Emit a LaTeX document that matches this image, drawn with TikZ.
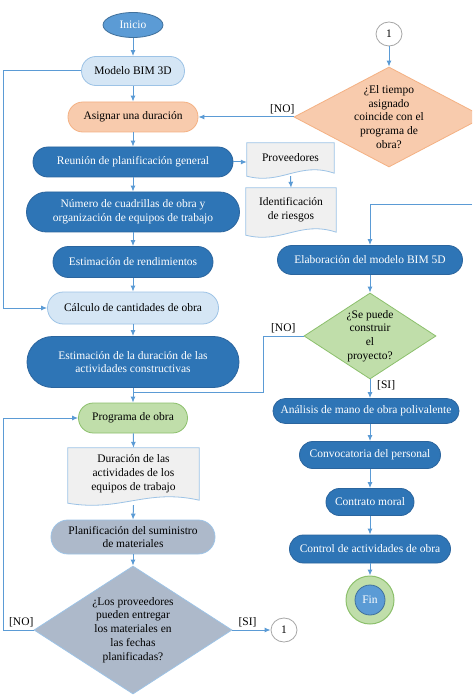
\documentclass[tikz,border=0pt]{standalone}
\usepackage{fontspec}
\setmainfont{Liberation Serif}
\usetikzlibrary{shapes.geometric,arrows.meta,calc}
\definecolor{dblue}{HTML}{2E75B6}
\definecolor{dblueb}{HTML}{2B659E}
\definecolor{mblue}{HTML}{5B9BD5}
\definecolor{mblueb}{HTML}{41719C}
\definecolor{lblue}{HTML}{D5E6F5}
\definecolor{lblueb}{HTML}{9DC3E6}
\definecolor{oran}{HTML}{F8CBAD}
\definecolor{oranb}{HTML}{F4B183}
\definecolor{gfill}{HTML}{C0DEAA}
\definecolor{gline}{HTML}{8CC06C}
\definecolor{gbfill}{HTML}{ADB9CA}
\definecolor{docfill}{HTML}{F0F0F0}
\definecolor{arr}{HTML}{5B9BD5}
\newcommand\wavedoc[1]{%
  \filldraw[docline] (#1.north west) -- (#1.north east) -- (#1.south east)
   .. controls ($(#1.south west)!0.6!(#1.south east)+(0,-12)$) and ($(#1.south west)!0.4!(#1.south east)+(0,12)$) .. ($(#1.south west)+(0,3)$) -- cycle;}
\begin{document}
\begin{tikzpicture}[x=1pt,y=-1pt,
  font=\fontsize{11.5}{13.8}\selectfont,
  stad/.style={rectangle, minimum height=#1, rounded corners={#1/2-0.1pt}, inner sep=0pt, align=center},
  darknode/.style={fill=dblue, draw=dblueb, line width=0.8pt, text=white},
  lightnode/.style={fill=lblue, draw=lblueb, line width=0.8pt, text=black},
  orangenode/.style={fill=oran, draw=oranb, line width=0.8pt, text=black},
  greennode/.style={fill=gfill, draw=gline, line width=0.8pt, text=black},
  greynode/.style={fill=gbfill, draw=lblueb, line width=0.8pt, text=black},
  dia/.style={diamond, inner sep=0pt},
  docline/.style={fill=docfill, draw=lblueb, line width=0.8pt},
  txt/.style={inner sep=0pt, align=center, text=black},
  conn/.style={draw=arr, line width=1pt, -{Latex[length=6pt,width=5pt]}},
  plainline/.style={draw=arr, line width=1pt},
  lbl/.style={inner sep=0pt, text=black},
  conncircle/.style={ellipse, draw=black!35, line width=0.8pt, fill=white, minimum width=26pt, minimum height=24pt, inner sep=0pt}
]
\useasboundingbox (0,0) rectangle (472,700);
\clip (0,0) rectangle (472,700);
\fill[white] (0,0) rectangle (472,700);

% left column
\node[ellipse, fill=mblue, draw=mblueb, line width=0.8pt, text=white, minimum width=60pt, minimum height=25pt, inner sep=0pt] (inicio) at (133,25) {Inicio};
\node[stad=29pt, lightnode, minimum width=103pt] (m3d) at (133,71) {Modelo BIM 3D};
\node[stad=30pt, orangenode, minimum width=130pt] (asig) at (133,117) {Asignar una duración};
\node[stad=30pt, darknode, minimum width=200pt] (reun) at (133,162) {Reunión de planificación general};
\node[stad=40pt, darknode, minimum width=213pt] (num) at (133,212) {Número de cuadrillas de obra y\\organización de equipos de trabajo};
\node[stad=31pt, darknode, minimum width=160pt] (rend) at (133,262) {Estimación de rendimientos};
\node[stad=32pt, lightnode, minimum width=171pt] (calc) at (133,308) {Cálculo de cantidades de obra};
\node[stad=51pt, darknode, minimum width=212pt] (dur) at (133,362) {Estimación de la duración de las\\actividades constructivas};
\node[stad=30pt, greennode, minimum width=109pt] (prog) at (133,418) {Programa de obra};
\path node[rectangle, minimum width=131pt, minimum height=52pt, inner sep=0pt] (docact) at (133.5,474) {};
\wavedoc{docact}
\node[txt] (docactt) at (docact.center) {Duración de las\\actividades de los\\equipos de trabajo};
\node[stad=34pt, greynode, minimum width=164pt] (plan) at (133,537) {Planificación del suministro\\de materiales};
\node[dia, fill=gbfill, draw=lblueb, line width=0.8pt, minimum width=198pt, minimum height=128pt] (dia3) at (133,630) {};
\node[txt] (dia3t) at (dia3.center) {¿Los proveedores\\pueden entregar\\los materiales en\\las fechas\\planificadas?};
\node[conncircle] (c1b) at (284,630) {1};

% right column
\node[conncircle] (c1t) at (389,34) {1};
\node[dia, fill=oran, draw=oranb, line width=0.8pt, minimum width=190pt, minimum height=100pt] (dia1) at (389,117) {};
\node[txt] (dia1t) at (dia1.center) {¿El tiempo\\asignado\\coincide con el\\programa de\\obra?};
\path node[rectangle, minimum width=87pt, minimum height=30pt, inner sep=0pt] (prov) at (290.5,158) {};
\wavedoc{prov}
\node[txt] (provt) at (prov.center) {Proveedores};
\path node[rectangle, minimum width=90pt, minimum height=44pt, inner sep=0pt] (ident) at (291,210) {};
\wavedoc{ident}
\node[txt] (identt) at (ident.center) {Identificación\\de riesgos};
\node[stad=29pt, darknode, minimum width=185pt] (elab) at (370,260) {Elaboración del modelo BIM 5D};
\node[dia, fill=gfill, draw=gline, line width=0.8pt, minimum width=132pt, minimum height=86pt] (dia2) at (370,336) {};
\node[txt] (dia2t) at (dia2.center) {¿Se puede\\construir\\el\\proyecto?};
\node[stad=25pt, darknode, minimum width=186pt] (anal) at (366,411) {Análisis de mano de obra polivalente};
\node[stad=27pt, darknode, minimum width=141pt] (conv) at (370,455) {Convocatoria del personal};
\node[stad=27pt, darknode, minimum width=88pt] (contr) at (370,502) {Contrato moral};
\node[stad=28pt, darknode, minimum width=161pt] (ctrl) at (370,549) {Control de actividades de obra};
\node[circle, fill=gfill, draw=gline, line width=1pt, minimum size=48pt, inner sep=0pt] (finout) at (370,600) {};
\node[circle, fill=mblue, draw=mblueb, line width=0.8pt, minimum size=30pt, inner sep=0pt, text=white] (fin) at (370,600) {Fin};

% helper coordinates
\coordinate (lft) at (3,0);
\coordinate (edge) at (472,205);
\coordinate (j1) at (263,392);

% connectors left column
\draw[conn] (inicio) -- (m3d);
\draw[conn] (m3d) -- (asig);
\draw[conn] (asig) -- (reun);
\draw[conn] (reun) -- (num);
\draw[conn] (num) -- (rend);
\draw[conn] (rend) -- (calc);
\draw[conn] (calc) -- (dur);
\draw[conn] (dur) -- (prog);
\draw[conn] (prog) -- (docact.north);
\draw[conn] ([yshift=-5pt]docact.south) -- (plan.north);
\draw[conn] (plan) -- (dia3.north);
\draw[conn] (dia3.east) -- (c1b.west);
\draw[conn] (dia3.west) -- (dia3.west -| lft) |- (prog.west);
\draw[conn] (m3d.west) -- (m3d.west -| lft) |- (calc.west);
\draw[conn] (reun.east) -- (reun.east -| prov.west);
\draw[conn] ([yshift=-3pt]prov.south) -- (ident.north);

% connectors right column
\draw[conn] (c1t) -- (dia1.north);
\draw[conn] (dia1.west) -- (dia1.west -| asig.east);
\draw[conn] (edge) -| (elab.north);
\draw[conn] (elab) -- (dia2.north);
\draw[conn] (dia2.south) -- (dia2.south |- anal.north);
\draw[plainline] (dia2.west) -| (j1) -- (j1 -| dur.south);
\draw[conn] (anal.south -| conv.north) -- (conv.north);
\draw[conn] (conv) -- (contr);
\draw[conn] (contr) -- (ctrl);
\draw[conn] (ctrl) -- (finout.north);

% labels
\node[lbl, anchor=south east] (no1) at ([xshift=1pt,yshift=3pt]dia1.west) {[NO]};
\node[lbl, anchor=south east] (no2) at ([xshift=-8pt,yshift=3pt]dia2.west) {[NO]};
\node[lbl, anchor=north west] (si2) at ([xshift=7pt,yshift=-1pt]dia2.south) {[SI]};
\node[lbl, anchor=south east] (no3) at ([xshift=0pt,yshift=3pt]dia3.west) {[NO]};
\node[lbl, anchor=south west] (si3) at ([xshift=6pt,yshift=3pt]dia3.east) {[SI]};
\end{tikzpicture}
\end{document}
